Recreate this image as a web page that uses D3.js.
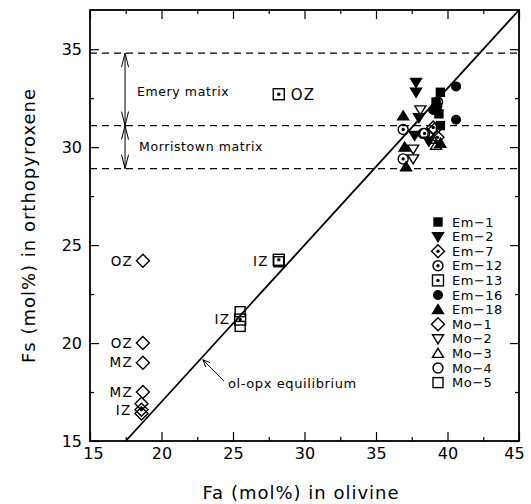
<!DOCTYPE html>
<html>
<head>
<meta charset="utf-8">
<script src="https://cdn.jsdelivr.net/npm/d3@7"></script>
<style>
  body { margin: 0; background: #fff; }
  text { font-family: "DejaVu Sans", sans-serif; fill: #000; }
</style>
</head>
<body>
<div id="chart"></div>
<script>
// size of the picture
var chart_width = 531;
var chart_height = 504;

// data: [Fa, Fs] pairs, mol%
var em1  = [[39.5, 32.8], [39.2, 32.3], [39.4, 31.7], [39.5, 31.1]];
var em2  = [[37.8, 33.3], [37.8, 32.8], [38.0, 31.5], [37.7, 30.6], [38.7, 30.3]];
var em7  = [[18.6, 16.6], [39.0, 31.0], [39.3, 30.5]];
var em12 = [[36.9, 30.9], [36.9, 29.4], [38.4, 30.7]];
var em13 = [[28.2, 32.7], [28.2, 24.25], [25.5, 21.2]];
var em16 = [[40.6, 33.1], [40.6, 31.4], [39.3, 32.1], [39.0, 31.9]];
var em18 = [[36.9, 31.6], [37.0, 30.0], [37.1, 29.0], [39.5, 30.2]];
var mo1  = [[18.7, 24.2], [18.7, 20.0], [18.7, 19.0], [18.7, 17.5], [18.6, 16.9], [18.6, 16.4], [39.1, 30.9]];
var mo2  = [[37.6, 29.9], [37.6, 29.4], [38.1, 31.9]];
var mo3  = [[39.0, 30.4], [39.2, 30.1]];
var mo4  = [[38.3, 30.7], [39.3, 32.3]];
var mo5  = [[28.2, 24.15], [25.5, 21.6], [25.5, 20.85]];

var series_names = ['Em-1', 'Em-2', 'Em-7', 'Em-12', 'Em-13', 'Em-16', 'Em-18',
                    'Mo-1', 'Mo-2', 'Mo-3', 'Mo-4', 'Mo-5'];
var series_values = [em1, em2, em7, em12, em13, em16, em18, mo1, mo2, mo3, mo4, mo5];

// zone labels next to the points: [text, Fa, Fs]
var zone_labels = [['OZ', 18.7, 24.2], ['OZ', 18.7, 20.0], ['MZ', 18.7, 19.0],
                   ['MZ', 18.7, 17.5], ['IZ', 18.6, 16.6], ['IZ', 25.5, 21.2],
                   ['IZ', 28.2, 24.2]];
var oz_right = ['OZ', 28.2, 32.7];

// matrix ranges (Fs)
var matrix_lines = [34.8, 31.1, 28.9];
var matrix_names = ['Emery matrix', 'Morristown matrix'];

// equilibrium line end points [Fa, Fs]
var eq_line = [[17.5, 15], [45, 37]];

var x_major = [15, 20, 25, 30, 35, 40, 45];
var y_major = [15, 20, 25, 30, 35];

// symbol style per series
var sym = {
  'Em-1':  {shape: 'square',  fill: true},
  'Em-2':  {shape: 'tridown', fill: true},
  'Em-7':  {shape: 'diamond', dot: true},
  'Em-12': {shape: 'circle',  dot: true},
  'Em-13': {shape: 'square',  dot: true},
  'Em-16': {shape: 'circle',  fill: true},
  'Em-18': {shape: 'triup',   fill: true},
  'Mo-1':  {shape: 'diamond'},
  'Mo-2':  {shape: 'tridown'},
  'Mo-3':  {shape: 'triup'},
  'Mo-4':  {shape: 'circle'},
  'Mo-5':  {shape: 'square'}
};

// plot box (window.top is reserved, so no "top" here)
var p_left = 90, p_right = 519, p_top = 10, p_bottom = 441;

var x = d3.scaleLinear().domain([15, 45]).range([p_left, p_right]);
var y = d3.scaleLinear().domain([15, 37]).range([p_bottom, p_top]);

var svg = d3.select('#chart')
            .append('svg')
            .attr('width', chart_width)
            .attr('height', chart_height);

// frame
svg.append('rect')
   .attr('x', p_left).attr('y', p_top)
   .attr('width', p_right - p_left).attr('height', p_bottom - p_top)
   .attr('fill', 'none').attr('stroke', '#000').attr('stroke-width', 1.8);

var minorX = d3.range(17.5, 45, 5);
var minorY = d3.range(17.5, 37, 5);

function styleAxis(g){
    g.select('.domain').remove();
    g.selectAll('line').attr('stroke', '#000').attr('stroke-width', 1.2);
    g.selectAll('text').style('font-size', '16px').attr('fill', '#000');
}

// bottom axis
svg.append('g').attr('transform', 'translate(0,' + p_bottom + ')')
   .call(d3.axisBottom(x).tickValues(x_major).tickSize(-9).tickPadding(7).tickFormat(d3.format('d')))
   .call(styleAxis)
   .selectAll('text')
   .attr('dx', function(d){ return d === 15 ? 3 : (d === 45 ? -5 : 0); });
svg.append('g').attr('transform', 'translate(0,' + p_bottom + ')')
   .call(d3.axisBottom(x).tickValues(minorX).tickSize(-4).tickFormat(''))
   .call(styleAxis);
// top axis
svg.append('g').attr('transform', 'translate(0,' + p_top + ')')
   .call(d3.axisTop(x).tickValues(x_major).tickSize(-9).tickFormat(''))
   .call(styleAxis);
svg.append('g').attr('transform', 'translate(0,' + p_top + ')')
   .call(d3.axisTop(x).tickValues(minorX).tickSize(-4).tickFormat(''))
   .call(styleAxis);
// left axis
svg.append('g').attr('transform', 'translate(' + p_left + ',0)')
   .call(d3.axisLeft(y).tickValues(y_major).tickSize(-9).tickPadding(8).tickFormat(d3.format('d')))
   .call(styleAxis);
svg.append('g').attr('transform', 'translate(' + p_left + ',0)')
   .call(d3.axisLeft(y).tickValues(minorY).tickSize(-4).tickFormat(''))
   .call(styleAxis);
// right axis
svg.append('g').attr('transform', 'translate(' + p_right + ',0)')
   .call(d3.axisRight(y).tickValues(y_major).tickSize(-9).tickFormat(''))
   .call(styleAxis);
svg.append('g').attr('transform', 'translate(' + p_right + ',0)')
   .call(d3.axisRight(y).tickValues(minorY).tickSize(-4).tickFormat(''))
   .call(styleAxis);

// axis titles
svg.append('text')
   .attr('x', 301).attr('y', 499)
   .attr('text-anchor', 'middle')
   .style('font-size', '18px').style('letter-spacing', '1px')
   .text('Fa (mol%) in olivine');
svg.append('text')
   .attr('transform', 'translate(35,' + ((p_top + p_bottom) / 2) + ') rotate(-90)')
   .attr('text-anchor', 'middle')
   .style('font-size', '18px').style('letter-spacing', '1px')
   .text('Fs (mol%) in orthopyroxene');

// dashed matrix lines
svg.selectAll('.mline')
   .data(matrix_lines)
   .enter()
   .append('line')
   .attr('x1', p_left).attr('x2', p_right)
   .attr('y1', function(d){ return y(d); })
   .attr('y2', function(d){ return y(d); })
   .attr('stroke', '#000').attr('stroke-width', 1.3)
   .attr('stroke-dasharray', '7,5');

// double arrows for the matrix ranges
var ax = x(17.45);
function vArrow(v1, v2){
    var y1 = y(v1), y2 = y(v2);
    svg.append('line').attr('x1', ax).attr('x2', ax).attr('y1', y1).attr('y2', y2)
       .attr('stroke', '#000').attr('stroke-width', 1);
    [[y1, 1], [y2, -1]].forEach(function(p){
        svg.append('path')
           .attr('d', 'M' + (ax - 3.5) + ',' + (p[0] + p[1] * 14) + 'L' + ax + ',' + p[0] +
                      'L' + (ax + 3.5) + ',' + (p[0] + p[1] * 14))
           .attr('fill', 'none').attr('stroke', '#000').attr('stroke-width', 1);
    });
}
vArrow(matrix_lines[0], matrix_lines[1]);
vArrow(matrix_lines[1], matrix_lines[2]);

svg.append('text').attr('x', 137).attr('y', y(32.85)).attr('dy', '0.35em')
   .style('font-size', '12.5px').style('letter-spacing', '0.6px').text(matrix_names[0]);
svg.append('text').attr('x', 139).attr('y', y(30.05)).attr('dy', '0.35em')
   .style('font-size', '12.5px').style('letter-spacing', '0.6px').text(matrix_names[1]);

// equilibrium line
svg.append('line')
   .attr('x1', x(eq_line[0][0])).attr('y1', y(eq_line[0][1]))
   .attr('x2', x(eq_line[1][0])).attr('y2', y(eq_line[1][1]))
   .attr('stroke', '#000').attr('stroke-width', 1.8);

// label with a short arrow to the line
var lab_x = 228, lab_y = 388;
svg.append('text').attr('x', lab_x).attr('y', lab_y)
   .style('font-size', '13px').style('letter-spacing', '0.6px').text('ol-opx equilibrium');
var tipF = 19.2;                       // Fs where the arrow meets the line
var tip = [x(17.5 + (tipF - 15) / 0.8) + 2, y(tipF) + 1];
var tail = [lab_x - 4, lab_y - 7];
var ang = Math.atan2(tail[1] - tip[1], tail[0] - tip[0]);
svg.append('path')
   .attr('d', 'M' + tail[0] + ',' + tail[1] + 'L' + tip[0] + ',' + tip[1])
   .attr('fill', 'none').attr('stroke', '#000').attr('stroke-width', 1);
svg.append('path')
   .attr('d', 'M' + (tip[0] + 8 * Math.cos(ang - 0.4)) + ',' + (tip[1] + 8 * Math.sin(ang - 0.4)) +
              'L' + tip[0] + ',' + tip[1] +
              'L' + (tip[0] + 8 * Math.cos(ang + 0.4)) + ',' + (tip[1] + 8 * Math.sin(ang + 0.4)))
   .attr('fill', 'none').attr('stroke', '#000').attr('stroke-width', 1);

// symbol drawing
function drawSymbol(g, name, cx, cy){
    var s = sym[name];
    var el;
    if (s.shape === 'square'){
        var h = s.fill ? 4 : (s.dot ? 5.5 : 5);
        el = g.append('rect').attr('x', cx - h).attr('y', cy - h).attr('width', 2 * h).attr('height', 2 * h);
    } else if (s.shape === 'circle'){
        el = g.append('circle').attr('cx', cx).attr('cy', cy).attr('r', s.fill ? 4.3 : 5);
    } else if (s.shape === 'diamond'){
        el = g.append('path').attr('d', 'M' + cx + ',' + (cy - 6.5) + 'L' + (cx + 6.5) + ',' + cy +
                                        'L' + cx + ',' + (cy + 6.5) + 'L' + (cx - 6.5) + ',' + cy + 'Z');
    } else if (s.shape === 'triup'){
        el = g.append('path').attr('d', 'M' + cx + ',' + (cy - 5) + 'L' + (cx + 5.5) + ',' + (cy + 4) +
                                        'L' + (cx - 5.5) + ',' + (cy + 4) + 'Z');
    } else {
        el = g.append('path').attr('d', 'M' + cx + ',' + (cy + 5) + 'L' + (cx + 5.5) + ',' + (cy - 4) +
                                        'L' + (cx - 5.5) + ',' + (cy - 4) + 'Z');
    }
    el.attr('fill', s.fill ? '#000' : 'none').attr('stroke', '#000').attr('stroke-width', 1.4);
    if (s.dot){
        g.append('circle').attr('cx', cx).attr('cy', cy).attr('r', 1.7).attr('fill', '#000');
    }
}

var pts = svg.append('g');
series_names.forEach(function(name, i){
    series_values[i].forEach(function(d){
        drawSymbol(pts, name, x(d[0]), y(d[1]));
    });
});

// zone labels
svg.selectAll('.zl')
   .data(zone_labels)
   .enter()
   .append('text')
   .attr('x', function(d){ return x(d[1]) - 10; })
   .attr('y', function(d){ return y(d[2]); })
   .attr('dy', '0.36em')
   .attr('text-anchor', 'end')
   .style('font-size', '13.5px').style('letter-spacing', '1.2px')
   .text(function(d){ return d[0]; });
svg.append('text')
   .attr('x', x(oz_right[1]) + 12).attr('y', y(oz_right[2])).attr('dy', '0.36em')
   .style('font-size', '15px').style('letter-spacing', '1.2px')
   .text(oz_right[0]);

// legend
var lg = svg.append('g');
series_names.forEach(function(name, i){
    var ly = 222 + i * 14.6;
    drawSymbol(lg, name, 438, ly);
    lg.append('text').attr('x', 452).attr('y', ly).attr('dy', '0.36em')
      .style('font-size', '13px').style('letter-spacing', '0.5px')
      .text(name.replace('-', '\u2212'));
});
</script>
</body>
</html>
